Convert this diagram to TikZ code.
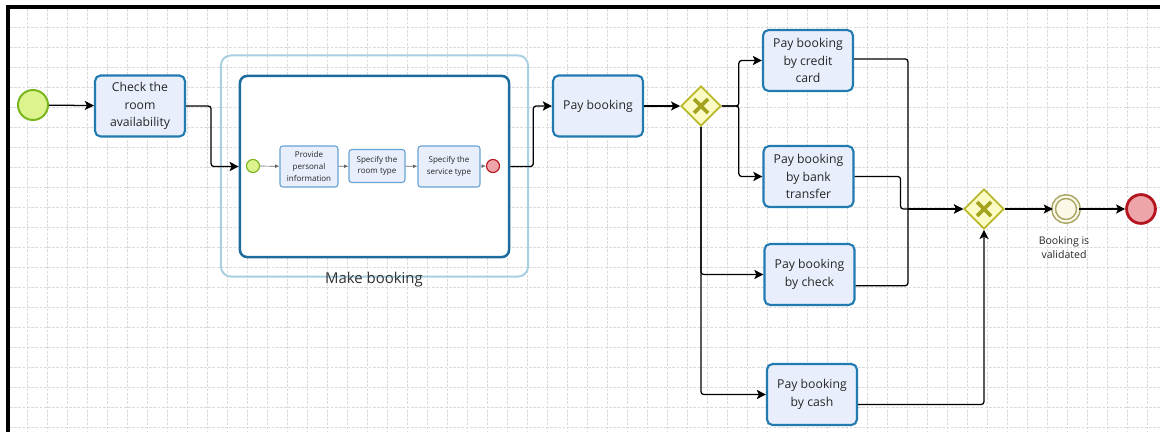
\documentclass[tikz,border=0pt]{standalone}
\usepackage{fontspec}
\setmainfont{Open Sans}
\usetikzlibrary{arrows.meta,shapes.geometric}
\definecolor{taskfill}{rgb}{0.910,0.933,0.988}
\definecolor{taskline}{rgb}{0.129,0.478,0.690}
\definecolor{subline}{rgb}{0.114,0.424,0.616}
\definecolor{lightsub}{rgb}{0.659,0.816,0.882}
\definecolor{smallline}{rgb}{0.408,0.643,0.827}
\definecolor{startfill}{rgb}{0.867,0.953,0.557}
\definecolor{startline}{rgb}{0.478,0.706,0.118}
\definecolor{gatefill}{rgb}{0.984,0.984,0.765}
\definecolor{gateline}{rgb}{0.725,0.722,0.157}
\definecolor{gatemark}{rgb}{0.643,0.639,0.125}
\definecolor{interline}{rgb}{0.659,0.647,0.400}
\definecolor{interfill}{rgb}{0.984,0.973,0.910}
\definecolor{endfill}{rgb}{0.933,0.647,0.667}
\definecolor{endline}{rgb}{0.706,0.078,0.118}
\definecolor{gridgray}{rgb}{0.86,0.86,0.86}

\tikzset{
  task/.style={draw=taskline, line width=1.5pt, fill=taskfill, rounded corners=4pt,
    minimum width=2.25cm, minimum height=1.525cm, align=center, text=black!85,
    font=\fontsize{8.7}{12.4}\selectfont, inner sep=1pt},
  smalltask/.style={draw=smallline, line width=0.8pt, fill=taskfill, rounded corners=2pt,
    align=center, text=black!85, font=\fontsize{5.7}{8.3}\selectfont, inner sep=1pt},
  startev/.style={circle, draw=startline, fill=startfill, line width=1.4pt, inner sep=0pt},
  endev/.style={circle, draw=endline, fill=endfill, line width=2pt, inner sep=0pt},
  gateway/.style={diamond, draw=gateline, fill=gatefill, line width=1.2pt,
    minimum width=1cm, minimum height=1cm, inner sep=0pt},
  gridline/.style={draw=gridgray, line width=0.5pt, dash pattern=on 2pt off 1pt},
  flow/.style={-{Stealth[length=6.5pt,width=6.5pt,inset=1.5pt]}, line width=0.9pt, rounded corners=2pt},
  seqline/.style={line width=0.9pt, rounded corners=2pt},
  innerflow/.style={-{Latex[length=3pt,width=2.6pt]}, line width=0.5pt, draw=black!60},
}

\begin{document}
\begin{tikzpicture}[x=0.025cm,y=-0.025cm]
\useasboundingbox (0,0) rectangle (1160,432);

%% canvas
\foreach \x in {27,47,...,1147} \draw [gridline] (\x,9) -- (\x,432);
\foreach \y in {27,47,...,427} \draw [gridline] (10,\y) -- (1160,\y);
\draw [line width=2.2pt] (8,432) -- (8,7) -- (1160,7);

%% first tasks
\node (start) [startev, minimum size=0.75cm] at (33,105) {};
\node (check) [task] at (140,106) {Check the\\room\\availability};

%% sub-process
\node (subout) [draw=lightsub, line width=1.4pt, rounded corners=7pt,
  minimum width=7.675cm, minimum height=5.525cm] at (374.5,166) {};
\node (subin) [draw=subline, line width=1.8pt, fill=white, rounded corners=5pt,
  minimum width=6.725cm, minimum height=4.525cm] at (374.5,166.5) {};
\node (makelabel) [text=black!80] at (374,280) {\fontsize{10.6}{13}\selectfont Make booking};
% inside
\node (instart) [startev, line width=0.8pt, minimum size=0.325cm] at (253,166) {};
\node (provide) [smalltask, minimum width=1.45cm, minimum height=1.025cm] at (309,166.5)
  {Provide\\personal\\information};
\node (roomtype) [smalltask, minimum width=1.4cm, minimum height=0.825cm] at (377,166)
  {Specify the\\room type};
\node (service) [smalltask, minimum width=1.55cm, minimum height=1.025cm] at (449,166.5)
  {Specify the\\service type};
\node (inend) [endev, line width=0.8pt, minimum size=0.325cm] at (493,166) {};
\draw [innerflow] (instart) -- (provide);
\draw [innerflow] (provide) -- (roomtype);
\draw [innerflow] (roomtype) -- (service);
\draw [innerflow] (service) -- (inend);

%% payment
\node (pay) [task] at (598,106) {Pay booking};
\node (gw1) [gateway] at (701,106) {};
\node (credit) [task] at (808,60.5) {Pay booking\\by credit\\card};
\node (bank) [task] at (808.5,176.5) {Pay booking\\by bank\\transfer};
\node (paycheck) [task] at (809.5,274.5) {Pay booking\\by check};
\node (cash) [task] at (812,394.5) {Pay booking\\by cash};

%% end
\node (gw2) [gateway] at (984,209) {};
\node (inter) [circle, draw=interline, line width=1.1pt, double=interfill,
  double distance=1.5pt, fill=interfill, minimum size=0.62cm, inner sep=0pt] at (1066,209) {};
\node (validlabel) [align=center, font=\fontsize{7.5}{10}\selectfont, text=black!85]
  at (1064,248) {Booking is\\validated};
\node (final) [endev, minimum size=0.72cm] at (1141,209) {};
% gateway marks
\foreach \g in {gw1,gw2} {
  \draw [gatemark, line width=2.6pt] ([shift={(-7,-7)}]\g.center) -- ([shift={(7,7)}]\g.center);
  \draw [gatemark, line width=2.6pt] ([shift={(-7,7)}]\g.center) -- ([shift={(7,-7)}]\g.center);
}

%% flows
\draw [flow] (start) -- (check);
\draw [flow] (check.east) -- ++(25,0) |- (subin.west);
\draw [flow] (subin.east) -- ++(23,0) |- (pay.west);
\draw [flow] (pay) -- (gw1);
\draw [flow] (gw1.east) -- ++(17,0) |- (credit.west);
\draw [flow] (gw1.east) -- ++(17,0) |- (bank.west);
\draw [flow] (gw1.south) |- (paycheck.west);
\draw [flow] (gw1.south) |- (cash.west);
\coordinate (join) at (908,209);
\draw [seqline] ([yshift=0.04cm]credit.east) -| (join);
\draw [seqline] ([yshift=-0.28cm]paycheck.east) -| (join);
\draw [flow] (bank.east) -- ++(46,0) |- (gw2.west);
\draw [flow] (join) -- (gw2.west);
\draw [flow] ([yshift=-0.25cm]cash.east) -| (gw2.south);
\draw [flow] (gw2) -- (inter);
\draw [flow] (inter) -- (final);

\end{tikzpicture}
\end{document}
